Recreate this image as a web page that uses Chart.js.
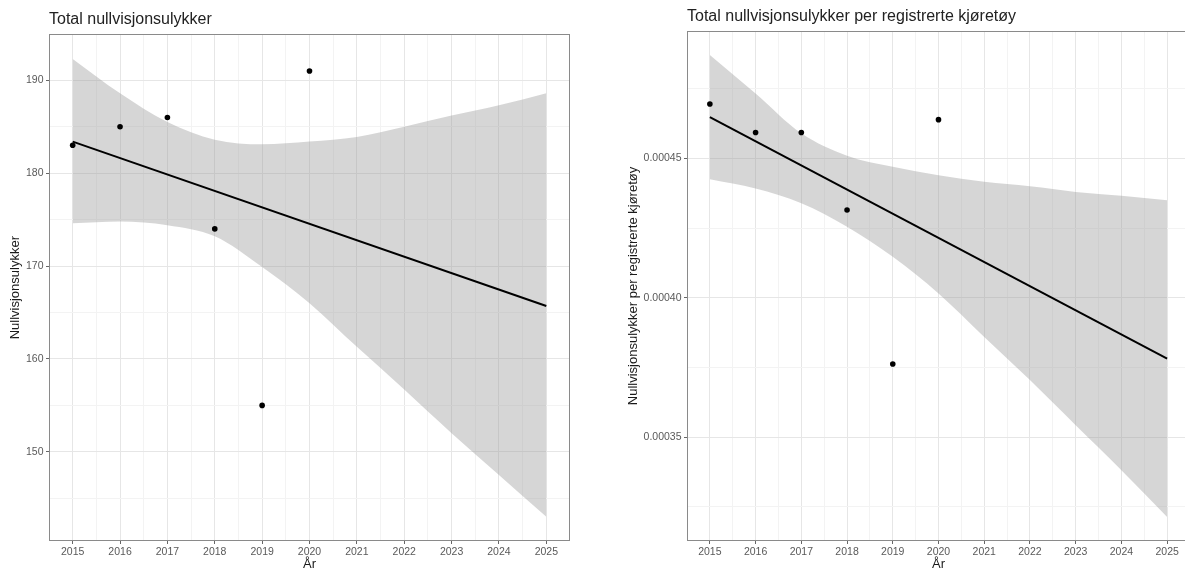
<!DOCTYPE html>
<html><head><meta charset="utf-8">
<script src="https://cdn.jsdelivr.net/npm/chart.js@4/dist/chart.umd.min.js"></script>
<style>
html,body{margin:0;padding:0;background:#fff;overflow:hidden;width:1185px;height:571px;position:relative;}
#c1{position:absolute;left:0;top:0;}
#c2{position:absolute;left:590px;top:0;}
</style></head><body>
<canvas id="c1" width="590" height="571"></canvas>
<canvas id="c2" width="605" height="571"></canvas>
<script>
// ---- data ----
const obsYears = [2015, 2016, 2017, 2018, 2019, 2020];
const fitYears = [2015, 2025];
const bandYears = [2015, 2016, 2017, 2018, 2019, 2020, 2021, 2022, 2023, 2024, 2025];

// left panel: total accidents
const leftCounts = [183, 185, 186, 174, 155, 191];
const leftFit = [183.4, 165.7];
const leftUpper = [192.3, 188.6, 185.5, 183.6, 183.1, 183.4, 183.9, 185.0, 186.2, 187.3, 188.6];
const leftLower = [174.6, 174.8, 174.4, 173.2, 169.9, 166.0, 161.3, 156.7, 152.0, 147.5, 143.0];

// right panel: accidents per registered vehicle
const rightRates = [0.0004695, 0.0004593, 0.0004593, 0.0004315, 0.0003763, 0.0004639];
const rightFit = [0.0004648, 0.0003782];
const rightUpper = [0.0004871, 0.0004733, 0.0004590, 0.0004510, 0.0004470, 0.0004440, 0.0004416, 0.0004400, 0.0004380, 0.0004366, 0.0004350];
const rightLower = [0.0004425, 0.0004392, 0.0004339, 0.0004255, 0.0004147, 0.0004016, 0.0003860, 0.0003705, 0.0003543, 0.0003382, 0.0003214];

// ticks
const xTicks = [2015, 2016, 2017, 2018, 2019, 2020, 2021, 2022, 2023, 2024, 2025];
const xTickLabels = ['2015', '2016', '2017', '2018', '2019', '2020', '2021', '2022', '2023', '2024', '2025'];
const xMinor = [2015.5, 2016.5, 2017.5, 2018.5, 2019.5, 2020.5, 2021.5, 2022.5, 2023.5, 2024.5];
const leftYTicks = [150, 160, 170, 180, 190];
const leftYTickLabels = ['150', '160', '170', '180', '190'];
const leftYMinor = [145, 155, 165, 175, 185];
const rightYTicks = [0.00035, 0.00040, 0.00045];
const rightYTickLabels = ['0.00035', '0.00040', '0.00045'];
const rightYMinor = [0.000325, 0.000375, 0.000425, 0.000475];

// ---- styling ----
Chart.defaults.font.family = "'Liberation Sans', Arial, Helvetica, sans-serif";
const GRID_MAJOR = '#e6e6e6';
const GRID_MINOR = '#f3f3f3';
const TICK_COLOR = '#666666';
const TICK_TEXT = '#595959';

const pts = (xs, ys) => xs.map((x, i) => ({x: x, y: ys[i]}));

function findIdx(arr, v) {
  for (let i = 0; i < arr.length; i++) if (Math.abs(arr[i] - v) < 1e-12) return i;
  return -1;
}

function axis(opts) {
  const all = opts.major.concat(opts.minor).sort((a, b) => a - b);
  const isMajor = v => findIdx(opts.major, v) >= 0;
  const cfg = {
    type: 'linear',
    min: opts.min, max: opts.max,
    afterBuildTicks: s => { s.ticks = all.map(v => ({value: v})); },
    afterFit: s => { if (opts.horizontal) s.height = opts.size; else s.width = opts.size; },
    ticks: {
      autoSkip: false, maxRotation: 0, padding: opts.tickPadding,
      color: TICK_TEXT, font: {size: 10.5},
      callback: v => { const i = findIdx(opts.major, v); return i >= 0 ? opts.labels[i] : ''; }
    },
    grid: {
      drawTicks: true, tickLength: 3, lineWidth: 1,
      color: c => (c.tick && isMajor(c.tick.value)) ? GRID_MAJOR : GRID_MINOR,
      tickColor: c => (c.tick && isMajor(c.tick.value)) ? TICK_COLOR : 'rgba(0,0,0,0)'
    },
    border: {display: false},
    title: {display: true, text: opts.title, color: '#1a1a1a', font: {size: 13}, padding: opts.titlePadding}
  };
  return cfg;
}

const panelBorder = {
  id: 'panelBorder',
  afterDraw(chart) {
    const {left, top, right, bottom} = chart.chartArea;
    const ctx = chart.ctx;
    ctx.save();
    ctx.strokeStyle = '#8a8a8a';
    ctx.lineWidth = 1;
    ctx.strokeRect(Math.round(left) + 0.5, Math.round(top) + 0.5, Math.round(right) - Math.round(left) - 1, Math.round(bottom) - Math.round(top) - 1);
    ctx.restore();
  }
};

function datasets(obs, fit, upper, lower) {
  return [
    {data: pts(obsYears, obs), showLine: false, pointRadius: 2.8, pointHoverRadius: 2.8,
     pointBackgroundColor: '#000', pointBorderWidth: 0, borderColor: '#000'},
    {data: pts(fitYears, fit), borderColor: '#000', borderWidth: 2, pointRadius: 0, fill: false},
    {data: pts(bandYears, upper), borderWidth: 0, borderColor: 'rgba(0,0,0,0)', pointRadius: 0,
     cubicInterpolationMode: 'monotone', fill: '+1', backgroundColor: 'rgba(153,153,153,0.4)'},
    {data: pts(bandYears, lower), borderWidth: 0, borderColor: 'rgba(0,0,0,0)', pointRadius: 0,
     cubicInterpolationMode: 'monotone', fill: false}
  ];
}

function makeChart(id, p) {
  return new Chart(document.getElementById(id), {
    type: 'line',
    data: {datasets: datasets(p.obs, p.fit, p.upper, p.lower)},
    options: {
      responsive: false, maintainAspectRatio: false, animation: false,
      layout: {padding: {left: 0, right: p.padRight, top: 0, bottom: 0}},
      plugins: {
        legend: {display: false}, tooltip: {enabled: false},
        title: {display: true, text: p.title, align: 'start', fullSize: false,
                color: '#222', font: {size: 16, weight: 'normal'}, padding: p.titlePad}
      },
      scales: {
        x: axis({horizontal: true, min: 2014.5, max: 2025.5, major: xTicks, minor: xMinor, labels: xTickLabels,
                 size: 30, tickPadding: 2, title: 'År', titlePadding: {top: 0, bottom: -1}}),
        y: axis({horizontal: false, min: p.ymin, max: p.ymax, major: p.yMajor, minor: p.yMinor, labels: p.yLabels,
                 size: p.ySize, tickPadding: 2.5, title: p.yTitle, titlePadding: {top: p.yTitlePad, bottom: 0}})
      }
    },
    plugins: [panelBorder]
  });
}

makeChart('c1', {
  obs: leftCounts, fit: leftFit, upper: leftUpper, lower: leftLower,
  title: 'Total nullvisjonsulykker', titlePad: {top: 10.4, bottom: 4.7},
  padRight: 20, ymin: 140.4, ymax: 194.95,
  yMajor: leftYTicks, yMinor: leftYMinor, yLabels: leftYTickLabels,
  ySize: 49, yTitle: 'Nullvisjonsulykker', yTitlePad: 7.5
});

makeChart('c2', {
  obs: rightRates, fit: rightFit, upper: rightUpper, lower: rightLower,
  title: 'Total nullvisjonsulykker per registrerte kjøretøy', titlePad: {top: 7.1, bottom: 4.7},
  padRight: 5, ymin: 0.0003128, ymax: 0.0004957,
  yMajor: rightYTicks, yMinor: rightYMinor, yLabels: rightYTickLabels,
  ySize: 97, yTitle: 'Nullvisjonsulykker per registrerte kjøretøy', yTitlePad: 35.2
});
</script>
</body></html>
